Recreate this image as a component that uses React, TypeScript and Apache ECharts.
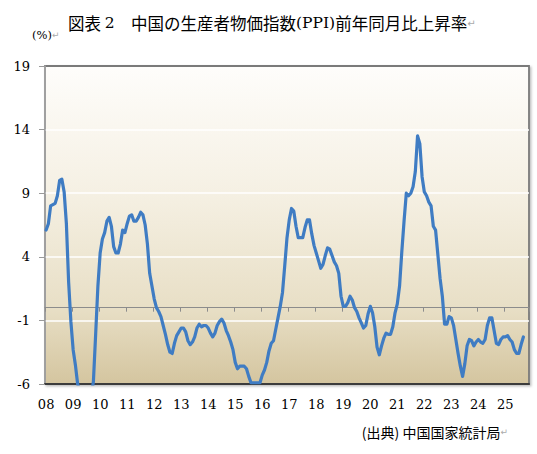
import React, { useEffect, useRef } from "react";
import * as echarts from "echarts";

// Year tick labels (category axis shows one per January)
const yearLabels = ["08", "09", "10", "11", "12", "13", "14", "15", "16", "17", "18", "19", "20", "21", "22", "23", "24", "25"];
// months shown on the axis in the final year (axis runs to Nov 2025)
const lastYearMonths = 11;

// PPI year-on-year change (%), monthly
const ppi2008 = [6.1, 6.6, 8.0, 8.1, 8.2, 8.8, 10.0, 10.1, 9.1, 6.6, 2.0, -1.1];
const ppi2009 = [-3.3, -4.5, -6.0, -6.6, -7.2, -7.8, -8.2, -7.9, -7.0, -5.8, -2.1, 1.7];
const ppi2010 = [4.3, 5.4, 5.9, 6.8, 7.1, 6.4, 4.8, 4.3, 4.3, 5.0, 6.1, 5.9];
const ppi2011 = [6.6, 7.2, 7.3, 6.8, 6.8, 7.1, 7.5, 7.3, 6.5, 5.0, 2.7, 1.7];
const ppi2012 = [0.7, 0.0, -0.3, -0.7, -1.4, -2.1, -2.9, -3.5, -3.6, -2.8, -2.2, -1.9];
const ppi2013 = [-1.6, -1.6, -1.9, -2.6, -2.9, -2.7, -2.3, -1.6, -1.3, -1.5, -1.4, -1.4];
const ppi2014 = [-1.6, -2.0, -2.3, -2.0, -1.4, -1.1, -0.9, -1.2, -1.8, -2.2, -2.7, -3.3];
const ppi2015 = [-4.3, -4.8, -4.6, -4.6, -4.6, -4.8, -5.4, -5.9, -5.9, -5.9, -5.9, -5.9];
const ppi2016 = [-5.3, -4.9, -4.3, -3.4, -2.8, -2.6, -1.7, -0.8, 0.1, 1.2, 3.3, 5.5];
const ppi2017 = [6.9, 7.8, 7.6, 6.4, 5.5, 5.5, 5.5, 6.3, 6.9, 6.9, 5.8, 4.9];
const ppi2018 = [4.3, 3.7, 3.1, 3.4, 4.1, 4.7, 4.6, 4.1, 3.6, 3.3, 2.7, 0.9];
const ppi2019 = [0.1, 0.1, 0.4, 0.9, 0.6, 0.0, -0.3, -0.8, -1.2, -1.6, -1.4, -0.5];
const ppi2020 = [0.1, -0.4, -1.5, -3.1, -3.7, -3.0, -2.4, -2.0, -2.1, -2.1, -1.5, -0.4];
const ppi2021 = [0.3, 1.7, 4.4, 6.8, 9.0, 8.8, 9.0, 9.5, 10.7, 13.5, 12.9, 10.3];
const ppi2022 = [9.1, 8.8, 8.3, 8.0, 6.4, 6.1, 4.2, 2.3, 0.9, -1.3, -1.3, -0.7];
const ppi2023 = [-0.8, -1.4, -2.5, -3.6, -4.6, -5.4, -4.4, -3.0, -2.5, -2.6, -3.0, -2.7];
const ppi2024 = [-2.5, -2.7, -2.8, -2.5, -1.4, -0.8, -0.8, -1.8, -2.8, -2.9, -2.5, -2.3];
const ppi2025 = [-2.3, -2.2, -2.5, -2.7, -3.3, -3.6, -3.6, -2.9, -2.3];

const ppiSeries = [
  ...ppi2008, ...ppi2009, ...ppi2010, ...ppi2011, ...ppi2012, ...ppi2013,
  ...ppi2014, ...ppi2015, ...ppi2016, ...ppi2017, ...ppi2018, ...ppi2019,
  ...ppi2020, ...ppi2021, ...ppi2022, ...ppi2023, ...ppi2024, ...ppi2025,
];

const categories: string[] = [];
yearLabels.forEach((yy, yi) => {
  const n = yi === yearLabels.length - 1 ? lastYearMonths : 12;
  for (let m = 1; m <= n; m++) categories.push(`${yy}-${m < 10 ? "0" + m : m}`);
});

const titleParts = ["図表 ", "2", "　中国の生産者物価指数", "(PPI)", "前年同月比上昇率"];
const unitText = "(%)";
const sourceText = "(出典) 中国国家統計局";

export default function App() {
  const ref = useRef<HTMLDivElement>(null);
  useEffect(() => {
    if (!ref.current) return;
    const chart = echarts.init(ref.current, null, { renderer: "svg" });
    const serif = "'DejaVu Serif', 'Liberation Serif', serif";
    const cjk = "'Noto Sans CJK JP', sans-serif";
    chart.setOption({
      animation: false,
      backgroundColor: "#ffffff",
      grid: {
        left: 45,
        right: 8,
        top: 66,
        bottom: 70,
        show: true,
        borderColor: "#7a7a7a",
        borderWidth: 1.8,
        backgroundColor: {
          type: "linear",
          x: 0, y: 0, x2: 0, y2: 1,
          colorStops: [
            { offset: 0, color: "#fefdfb" },
            { offset: 0.4, color: "#f5f0e3" },
            { offset: 0.76, color: "#e8dfc6" },
            { offset: 1, color: "#d4c59f" },
          ],
        },
        shadowColor: "rgba(0,0,0,0.25)",
        shadowBlur: 2,
        shadowOffsetX: 1.5,
        shadowOffsetY: 1.5,
      },
      xAxis: [
        {
          type: "category",
          data: categories,
          boundaryGap: true,
          position: "bottom",
          axisLine: { show: true, onZero: false, lineStyle: { color: "#3c3c3c", width: 2 } },
          axisTick: { show: false },
          axisLabel: {
            interval: (i: number) => i % 12 === 0,
            formatter: (v: string) => v.slice(0, 2),
            fontFamily: serif,
            fontSize: 13,
            color: "#000",
            margin: 14,
          },
          splitLine: { show: false },
        },
        {
          type: "category",
          data: categories,
          boundaryGap: true,
          position: "top",
          axisLine: { show: true, onZero: true, onZeroAxisIndex: 0, lineStyle: { color: "#8c8c8c", width: 1.2 } },
          axisTick: { show: true, interval: 11, inside: true, length: 4, lineStyle: { color: "#8c8c8c", width: 1 } },
          axisLabel: { show: false },
          splitLine: { show: false },
        },
      ],
      yAxis: {
        type: "value",
        min: -6,
        max: 19,
        interval: 5,
        axisLine: { show: true, lineStyle: { color: "#a8a8a8", width: 1.5 } },
        axisTick: { show: true, length: 6, lineStyle: { color: "#9a9a9a" } },
        axisLabel: { fontFamily: serif, fontSize: 13, color: "#000", margin: 15 },
        splitLine: { show: true, showMinLine: false, showMaxLine: false, lineStyle: { color: "#ffffff", width: 1.5 } },
      },
      series: [
        {
          type: "line",
          data: ppiSeries,
          xAxisIndex: 0,
          yAxisIndex: 0,
          showSymbol: false,
          clip: true,
          lineStyle: { color: "#3f7cc3", width: 3.2, join: "round", cap: "round" },
          z: 5,
        },
      ],
      graphic: [
        {
          type: "text",
          left: 68,
          top: 15,
          style: {
            text: `{c|${titleParts[0]}}{s|${titleParts[1]}}{c|${titleParts[2]}}{s|${titleParts[3]}}{c|${titleParts[4]}}{r|↵}`,
            rich: {
              c: { fontFamily: cjk, fontSize: 16.5, fill: "#000" },
              s: { fontFamily: serif, fontSize: 15.5, fill: "#000" },
              r: { fontFamily: "DejaVu Sans", fontSize: 10, fill: "#aaaaaa" },
            },
          },
        },
        {
          type: "text",
          left: 32,
          top: 29,
          style: {
            text: `{t|${unitText}}{r|↵}`,
            rich: {
              t: { fontFamily: serif, fontSize: 11.5, fill: "#000" },
              r: { fontFamily: "DejaVu Sans", fontSize: 9, fill: "#aaaaaa" },
            },
          },
        },
        {
          type: "text",
          right: 29,
          top: 425,
          style: {
            text: `{t|${sourceText}}{r|↵}`,
            rich: {
              t: { fontFamily: cjk, fontSize: 14, fill: "#000" },
              r: { fontFamily: "DejaVu Sans", fontSize: 9, fill: "#aaaaaa" },
            },
          },
        },
      ],
    });
    return () => chart.dispose();
  }, []);
  return (
    <div
      ref={ref}
      style={{ position: "absolute", left: 0, top: 0, width: 537, height: 454 }}
    />
  );
}
